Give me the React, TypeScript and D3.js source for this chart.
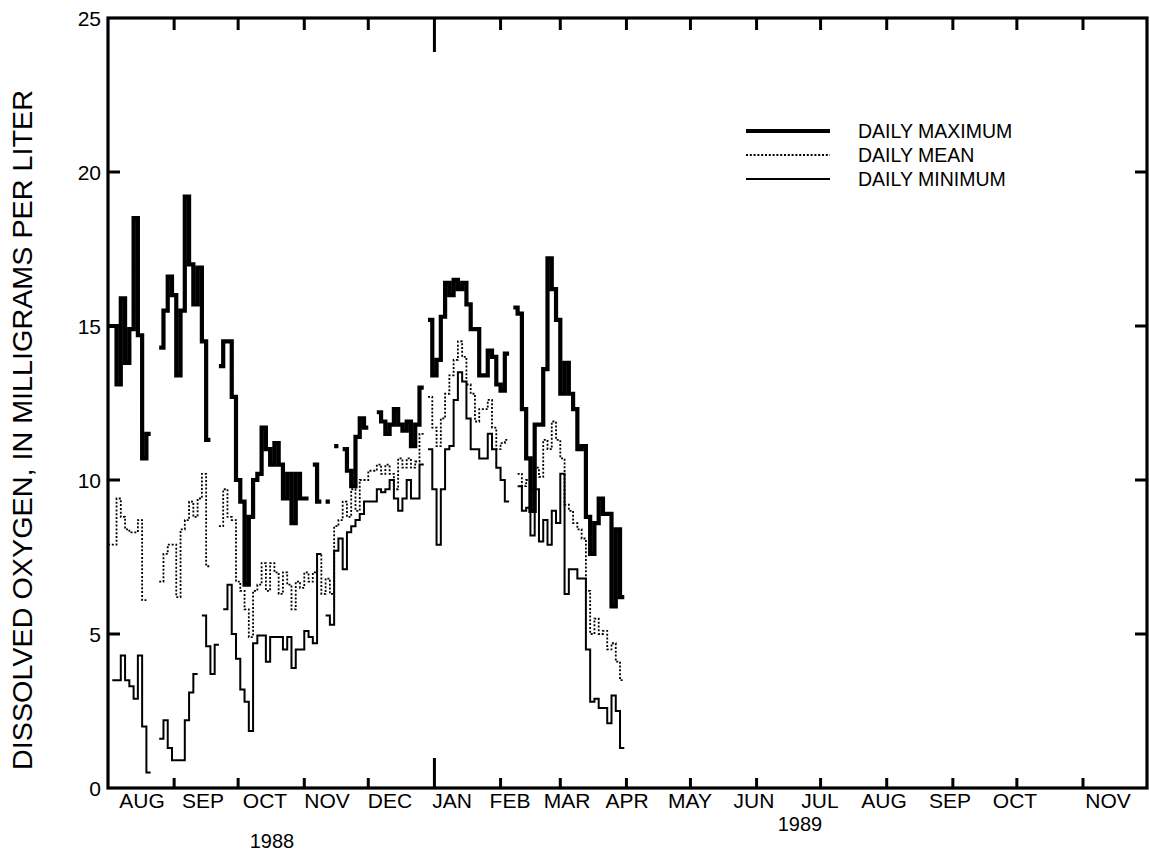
import React from "react";
import * as d3 from "d3";

// ---- DATA (values every 2 days starting 1 Aug 1988; null = no record) ----
const startDate = new Date(Date.UTC(1988, 7, 1));
const stepDays = 2;

const dailyMaximum: (number | null)[] = [
  15, 15, 13.1, 15.9, 13.8, 14.9, 18.5, 14.7, 10.7, 11.5,
  null, null, 14.3, 15.5, 16.6, 16, 13.4, 15.5, 19.2, 17,
  15.7, 16.9, 14.5, 11.3, null, null, 13.7, 14.5, 14.5, 12.7,
  10, 9.3, 6.6, 8.8, 10, 10.2, 11.7, 11, 10.5, 11.2,
  10.5, 9.4, 10.2, 8.6, 10.2, 9.4, 9.4, null, 10.5, 9.3,
  null, 9.3, null, 11.1, null, 11, 10.3, 9.8, 11.4, 12,
  11.7, null, null, 12.2, 11.9, 11.5, 11.8, 12.3, 11.8, 11.6,
  11.9, 11.1, 11.8, 13, null, 15.2, 13.4, 13.9, 15.3, 16.4,
  16, 16.5, 16.2, 16.4, 15.7, 14.9, 14.9, 13.4, 13.4, 14.2,
  14, 13.1, 12.9, 14.1, null, 15.6, 15.4, 12.3, 10.7, 9,
  11.8, 11.8, 13.6, 17.2, 16.2, 15.2, 12.8, 13.8, 12.8, 12.3,
  11, 11.1, 8.8, 7.6, 8.6, 9.4, 8.9, 8.9, 5.9, 8.4,
  6.2, null,
];

const dailyMean: (number | null)[] = [
  7.9, 7.9, 9.4, 8.8, 8.4, 8.3, 8.3, 8.7, 6.1, null,
  null, null, 6.7, 7.6, 7.9, 7.9, 6.2, 8.4, 8.7, 9.3,
  8.8, 9.4, 10.2, 7.2, null, null, 8.5, 9.7, 8.8, 8.7,
  6.7, 6.4, 5.8, 4.9, 6.4, 6.6, 7.3, 6.4, 7.3, 7,
  6.3, 7, 6.6, 5.8, 6.7, 6.5, 7, 6.7, 7, 7.6,
  6.3, 6.8, 6.3, 8.5, 8.7, 9.3, 8.8, 9.7, 9, 10,
  10, 10.3, 10.3, 10.5, 10.2, 10.5, 10.2, 9.7, 10.7, 10.4,
  10.7, 10.4, 10.6, 11.5, null, 12.7, 11.7, 11.1, 12, 12.8,
  13.4, 13.9, 14.5, 14, 13.1, 12.8, 11.9, 12.3, 12.3, 12.6,
  11.7, 11, 11.2, 11.3, null, null, 10.2, 9.8, 10, 9.7,
  10.4, 10.1, 11.3, 11, 11.9, 11.3, 10.7, 9.2, 9, 8.6,
  8.4, 8.1, 6.4, 5, 5.5, 5, 5.1, 4.5, 4.7, 4.1,
  3.5, null,
];

const dailyMinimum: (number | null)[] = [
  null, 3.5, 3.5, 4.3, 3.5, 3.3, 2.9, 4.3, 2, 0.5,
  null, null, 1.6, 2.2, 1.3, 0.9, 0.9, 0.9, 2.2, 3.1,
  3.7, null, 5.6, 4.6, 3.7, 4.65, null, 5.8, 6.6, 5,
  4.2, 3.2, 2.8, 1.85, 4.7, 4.95, 4.95, 4.1, 4.9, 4.9,
  4.9, 4.5, 4.9, 3.9, 4.5, 4.5, 5.1, 4.9, 4.7, 7.6,
  null, 5.6, 5.3, 7.7, 8.1, 7.1, 8.3, 8.5, 8.7, 8.9,
  9.3, 9.3, 9.3, 9.7, 9.6, 9.7, 10, 9.4, 9, 9.4,
  10, 9.4, 9.4, 10.5, null, 11, 9.7, 7.9, 9.7, 11,
  11.1, 12.6, 13.5, 13.2, 12, 11, 11, 10.7, 10.7, 11.5,
  11, 10.4, 10, 9.3, null, null, 9.8, 9, 9.1, 8.2,
  9.7, 8, 8.7, 7.9, 9, 8.6, 10.2, 6.3, 7.1, 7.1,
  6.8, 6.8, 4.5, 2.8, 2.9, 2.6, 2.6, 2.1, 3, 2.5,
  1.3, null,
];

const monthLabels = [
  "AUG", "SEP", "OCT", "NOV", "DEC", "JAN", "FEB", "MAR",
  "APR", "MAY", "JUN", "JUL", "AUG", "SEP", "OCT", "NOV",
];
const yearLabels = ["1988", "1989"];
const yTickValues = [0, 5, 10, 15, 20, 25];
const legendLabels = ["DAILY MAXIMUM", "DAILY MEAN", "DAILY MINIMUM"];

// ---- LAYOUT (pixels) ----
const W = 1150;
const H = 858;
const L = 108, R = 1147, T = 18, B = 788;
const FONT = "'Liberation Sans', Arial, Helvetica, sans-serif";
const monthLabelX = [142, 203, 265, 327, 390, 452, 510, 567, 627, 690, 754, 820, 884, 950, 1015, 1108];
const yearLabelPos = [
  { x: 272, y: 841 },
  { x: 800, y: 824 },
];

type Pt = { date: Date | null; v: number | null };

function dayToDate(d: number) {
  return new Date(startDate.getTime() + d * 86400000);
}

function buildSteps(values: (number | null)[]): Pt[] {
  const out: Pt[] = [];
  values.forEach((v, i) => {
    if (v == null) return;
    out.push({ date: dayToDate(i * stepDays), v });
    const next = values[i + 1];
    if (next == null) {
      out.push({ date: dayToDate((i + 1) * stepDays), v });
      out.push({ date: null, v: null });
    }
  });
  return out;
}

export default function App() {
  const x = d3
    .scaleUtc()
    .domain([new Date(Date.UTC(1988, 7, 1)), new Date(Date.UTC(1989, 11, 1))])
    .range([L, R]);
  const y = d3.scaleLinear().domain([0, 25]).range([B, T]);

  const line = d3
    .line<Pt>()
    .defined((p) => p.v != null && p.date != null)
    .x((p) => x(p.date as Date))
    .y((p) => y(p.v as number))
    .curve(d3.curveStepAfter);

  const months = d3.utcMonth.range(
    new Date(Date.UTC(1988, 7, 1)),
    new Date(Date.UTC(1989, 11, 1))
  );
  const tickMonths = months.slice(1);
  const isJan = (d: Date) => d.getUTCMonth() === 0;

  const meanDash = "2 1.8";

  return (
    <svg
      width={W}
      height={H}
      style={{ position: "absolute", left: 0, top: 0, background: "#fff" }}
      fontFamily={FONT}
    >
      <rect x={0} y={0} width={W} height={H} fill="#fff" />
      {/* series */}
      <path
        d={line(buildSteps(dailyMean)) || ""}
        fill="none"
        stroke="#000"
        strokeWidth={1.8}
        strokeDasharray={meanDash}
      />
      <path
        d={line(buildSteps(dailyMinimum)) || ""}
        fill="none"
        stroke="#000"
        strokeWidth={2}
      />
      <path
        d={line(buildSteps(dailyMaximum)) || ""}
        fill="none"
        stroke="#000"
        strokeWidth={4.2}
      />

      {/* frame */}
      <rect x={L} y={T} width={R - L} height={B - T} fill="none" stroke="#000" strokeWidth={3.2} />

      {/* y ticks */}
      {yTickValues.slice(1, -1).map((v) => (
        <g key={"yt" + v}>
          <line x1={L} x2={L + 12} y1={y(v)} y2={y(v)} stroke="#000" strokeWidth={3} />
          <line x1={R} x2={R - 12} y1={y(v)} y2={y(v)} stroke="#000" strokeWidth={3} />
        </g>
      ))}
      {yTickValues.map((v) => (
        <text
          key={"yl" + v}
          x={101}
          y={y(v)}
          dy="0.36em"
          textAnchor="end"
          fontSize={21}
          fill="#000"
        >
          {v}
        </text>
      ))}

      {/* x ticks */}
      {tickMonths.map((m, i) => (
        <g key={"xt" + i}>
          <line x1={x(m)} x2={x(m)} y1={B} y2={B - (isJan(m) ? 30 : 10)} stroke="#000" strokeWidth={3} />
          <line x1={x(m)} x2={x(m)} y1={T} y2={T + (isJan(m) ? 34 : 12)} stroke="#000" strokeWidth={3} />
        </g>
      ))}
      {monthLabels.map((lab, i) => (
        <text
          key={"ml" + i}
          x={monthLabelX[i]}
          y={800}
          dy="0.36em"
          textAnchor="middle"
          fontSize={21}
          fill="#000"
        >
          {lab}
        </text>
      ))}
      {yearLabels.map((lab, i) => (
        <text
          key={"yr" + i}
          x={yearLabelPos[i].x}
          y={yearLabelPos[i].y}
          dy="0.36em"
          textAnchor="middle"
          fontSize={20}
          fill="#000"
        >
          {lab}
        </text>
      ))}

      {/* y axis title */}
      <text
        transform={`translate(22, ${430}) rotate(-90)`}
        textAnchor="middle"
        dy="0.36em"
        fontSize={28}
        textLength={680}
        lengthAdjust="spacingAndGlyphs"
        fill="#000"
      >
        DISSOLVED OXYGEN, IN MILLIGRAMS PER LITER
      </text>

      {/* legend */}
      {legendLabels.map((lab, i) => {
        const ly = 131 + i * 24;
        return (
          <g key={"lg" + i}>
            <line
              x1={746}
              x2={830}
              y1={ly}
              y2={ly}
              stroke="#000"
              strokeWidth={i === 0 ? 4.2 : i === 1 ? 1.8 : 2}
              strokeDasharray={i === 1 ? meanDash : undefined}
            />
            <text x={858} y={ly} dy="0.36em" fontSize={19.5} fill="#000">
              {lab}
            </text>
          </g>
        );
      })}
    </svg>
  );
}
